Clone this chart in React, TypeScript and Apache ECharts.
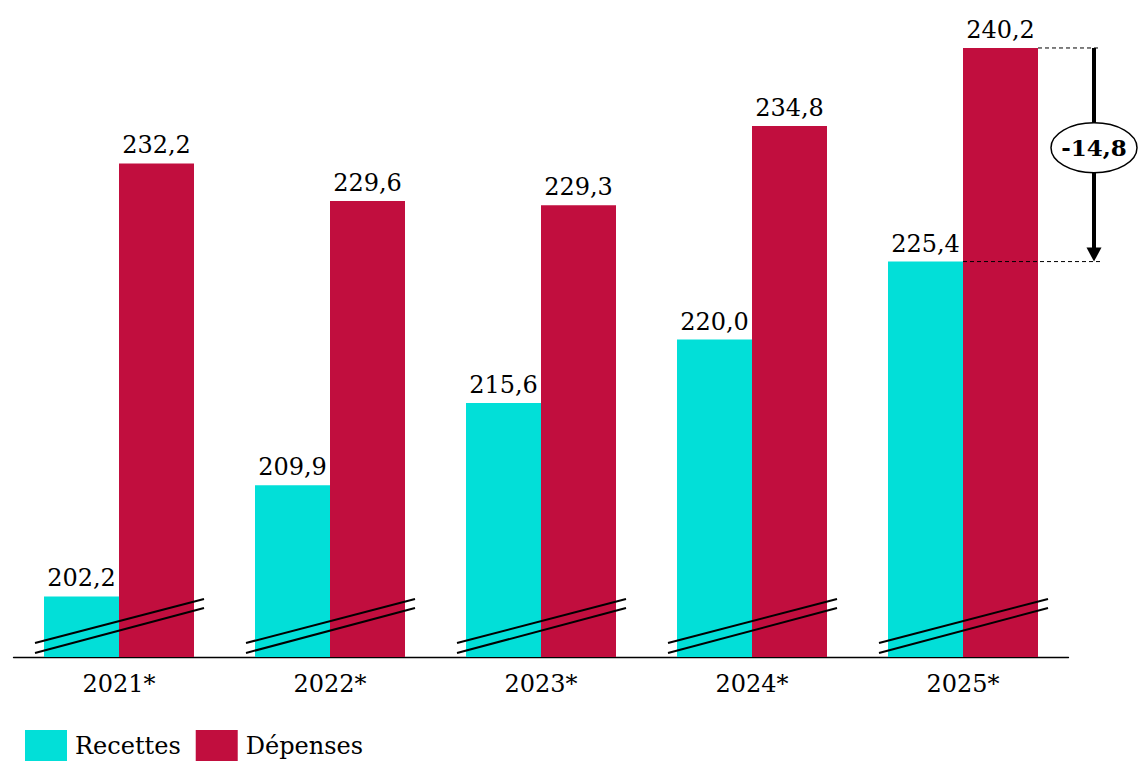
import React, { useEffect, useRef } from "react";
import * as echarts from "echarts";

const categories = ["2021*", "2022*", "2023*", "2024*", "2025*"];
const recettes = [202.2, 209.9, 215.6, 220.0, 225.4];
const depenses = [232.2, 229.6, 229.3, 234.8, 240.2];
const seriesNames = ["Recettes", "Dépenses"];
const axisMin = 198;
const axisMax = 242;

const CYAN = "#02DFD8";
const RED = "#C10E3E";
const FONT = "DejaVu Serif";

const fmt = (v: number) => v.toFixed(1).replace(".", ",");

export default function App() {
  const ref = useRef<HTMLDivElement>(null);
  useEffect(() => {
    if (!ref.current) return;
    const chart = echarts.init(ref.current, undefined, { renderer: "svg" });
    const last = categories.length - 1;
    const gap = recettes[last] - depenses[last];

    const labelStyle = {
      show: true,
      position: "top",
      distance: 6,
      fontFamily: FONT,
      fontSize: 24,
      color: "#000",
      formatter: (p: any) => fmt(p.value),
    };

    const option: any = {
      animation: false,
      backgroundColor: "#ffffff",
      textStyle: { fontFamily: FONT },
      grid: { left: 13.5, right: 76.5, top: 22, bottom: 125, containLabel: false },
      legend: {
        left: 25,
        top: 730,
        padding: 0,
        itemWidth: 42,
        itemHeight: 31,
        itemGap: 15,
        icon: "rect",
        textStyle: { fontFamily: FONT, fontSize: 24, color: "#000", padding: [0, 0, 0, 3] },
        data: seriesNames,
      },
      xAxis: {
        type: "category",
        data: categories,
        axisLine: { show: true, lineStyle: { color: "#000", width: 1.3 } },
        axisTick: { show: false },
        axisLabel: { fontFamily: FONT, fontSize: 24, color: "#000", margin: 15 },
      },
      yAxis: {
        type: "value",
        min: axisMin,
        max: axisMax,
        show: false,
        splitLine: { show: false },
      },
      series: [
        {
          name: seriesNames[0],
          type: "bar",
          data: recettes,
          barWidth: 75,
          barGap: "0%",
          itemStyle: { color: CYAN },
          label: labelStyle,
        },
        {
          name: seriesNames[1],
          type: "bar",
          data: depenses,
          barWidth: 75,
          barGap: "0%",
          itemStyle: { color: RED },
          label: labelStyle,
        },
        {
          type: "custom",
          name: "break",
          z: 10,
          silent: true,
          data: categories.map((_, i) => [i, axisMin]),
          encode: { x: 0, y: 1 },
          renderItem: (params: any, api: any) => {
            const p = api.coord([api.value(0), axisMin]);
            const cx = p[0];
            const by = p[1];
            const st = { stroke: "#000", lineWidth: 2 };
            return {
              type: "group",
              children: [
                { type: "line", shape: { x1: cx - 84, y1: by - 14, x2: cx + 85, y2: by - 58 }, style: st },
                { type: "line", shape: { x1: cx - 84, y1: by - 4, x2: cx + 85, y2: by - 49 }, style: st },
              ],
            };
          },
        },
        {
          type: "custom",
          name: "ecart",
          z: 11,
          silent: true,
          clip: false,
          data: [[last, depenses[last], recettes[last]]],
          encode: { x: 0, y: 1 },
          renderItem: (params: any, api: any) => {
            const idx = api.value(0);
            const top = api.coord([idx, api.value(1)]);
            const bot = api.coord([idx, api.value(2)]);
            const cx = top[0];
            const ty = top[1];
            const byy = bot[1];
            const ax = cx + 131;
            const ey = (ty + byy) / 2 - 7;
            const dash = { stroke: "#000", lineWidth: 1, lineDash: [4, 3] };
            return {
              type: "group",
              children: [
                { type: "line", shape: { x1: cx + 75, y1: ty, x2: cx + 137, y2: ty }, style: dash },
                { type: "line", shape: { x1: cx, y1: byy, x2: cx + 137, y2: byy }, style: dash },
                { type: "line", shape: { x1: ax, y1: ty, x2: ax, y2: byy - 12 }, style: { stroke: "#000", lineWidth: 4 } },
                {
                  type: "polygon",
                  shape: { points: [[ax - 7.5, byy - 14], [ax + 7.5, byy - 14], [ax, byy]] },
                  style: { fill: "#000" },
                },
                {
                  type: "ellipse",
                  shape: { cx: ax, cy: ey, rx: 43, ry: 25 },
                  style: { fill: "#fff", stroke: "#000", lineWidth: 1.5 },
                },
                {
                  type: "text",
                  x: ax,
                  y: ey,
                  style: {
                    text: fmt(gap),
                    fontFamily: FONT,
                    fontSize: 23,
                    fontWeight: "bold",
                    fill: "#000",
                    align: "center",
                    verticalAlign: "middle",
                  },
                },
              ],
            };
          },
        },
      ],
    };
    chart.setOption(option);
    return () => chart.dispose();
  }, []);
  return (
    <div
      ref={ref}
      style={{ position: "fixed", left: 0, top: 0, width: 1145, height: 782, background: "#fff" }}
    />
  );
}
